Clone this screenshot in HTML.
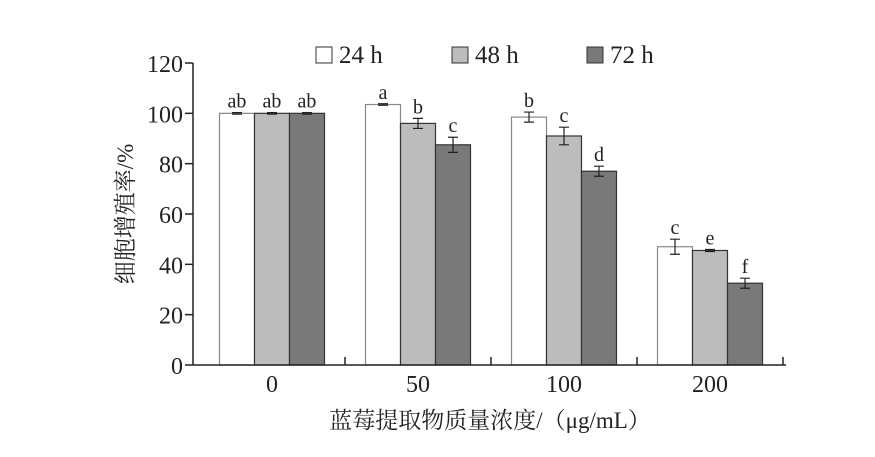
<!DOCTYPE html>
<html><head><meta charset="utf-8"><style>
body{margin:0;background:#fff;}
svg text{font-family:"Liberation Serif","Noto Serif CJK SC",serif;fill:#222;}
</style></head><body>
<svg id="c" width="875" height="452" xmlns="http://www.w3.org/2000/svg"></svg>
<script>
const categories=["0","50","100","200"];
const series=["24 h","48 h","72 h"];
const values24=[100,103.5,98.5,47];
const values48=[100,96,91,45.5];
const values72=[100,87.5,77,32.5];
const err24=[0.3,0.3,2,3];
const err48=[0.3,2,3.5,0.4];
const err72=[0.3,3,2,2];
const letters24=["ab","a","b","c"];
const letters48=["ab","b","c","e"];
const letters72=["ab","c","d","f"];
const yTicks=[0,20,40,60,80,100,120];
const fills=["#ffffff","#bdbcbd","#7a797a"];
const svg=document.getElementById('c');
const NS="http://www.w3.org/2000/svg";
const y0=365,yTop=63,ax=193,axEnd=786;
const ys=v=>y0-(v/120)*(y0-yTop);
const gc=i=>272+146*i;
const bw=35;
function el(t,a,txt){const e=document.createElementNS(NS,t);for(const k in a)e.setAttribute(k,a[k]);if(txt!==undefined)e.textContent=txt;svg.appendChild(e);return e;}
const vals=[values24,values48,values72],errs=[err24,err48,err72],lets=[letters24,letters48,letters72];
categories.forEach((c,i)=>{
 series.forEach((s,j)=>{
  const x=gc(i)-1.5*bw+j*bw,v=vals[j][i],e=errs[j][i];
  const r=el('rect',{x:x,y:ys(v),width:bw,height:y0-ys(v),fill:fills[j],stroke:j==0?'#888':'#333','stroke-width':1.2});
  
  
  const cx=x+bw/2;
  const eb=el('path',{d:`M${cx},${ys(v+e)}V${ys(v-e)}M${cx-5},${ys(v+e)}H${cx+5}M${cx-5},${ys(v-e)}H${cx+5}`,stroke:'#222','stroke-width':1.2,fill:'none'});
  
  
  const t=el('text',{x:cx,y:ys(v+e)-5,'text-anchor':'middle','font-size':20},lets[j][i]);
  
  
 });
 const tl=el('text',{x:gc(i),y:392,'text-anchor':'middle','font-size':24},c);
 
 
 const tk=el('line',{x1:gc(i)+73,x2:gc(i)+73,y1:y0,y2:y0-8,stroke:'#222','stroke-width':1.5});
 
 
});
const yaxis=el('line',{x1:ax,x2:ax,y1:yTop,y2:y0,stroke:'#222','stroke-width':1.5});


const xaxis=el('line',{x1:ax,x2:axEnd,y1:y0,y2:y0,stroke:'#222','stroke-width':1.5});


yTicks.forEach(v=>{
 const l=el('line',{x1:ax-8,x2:ax,y1:ys(v),y2:ys(v),stroke:'#222','stroke-width':1.5});
 
 
 const t=el('text',{x:ax-10,y:ys(v)+9,'text-anchor':'end','font-size':24},v);
 
 
});
const legX=[316,452,587];
series.forEach((s,j)=>{
 const b=el('rect',{x:legX[j],y:47,width:16,height:16,fill:fills[j],stroke:'#333','stroke-width':1});
 
 
 const t=el('text',{x:legX[j]+23,y:63,'font-size':25},s);
 
 
});
const yt=el('text',{x:0,y:0,'text-anchor':'middle','font-size':23,transform:'translate(133,214) rotate(-90)'},'细胞增殖率/%');


const xt=el('text',{x:490,y:428,'text-anchor':'middle','font-size':23},'蓝莓提取物质量浓度/（μg/mL）');


</script>
</body></html>
